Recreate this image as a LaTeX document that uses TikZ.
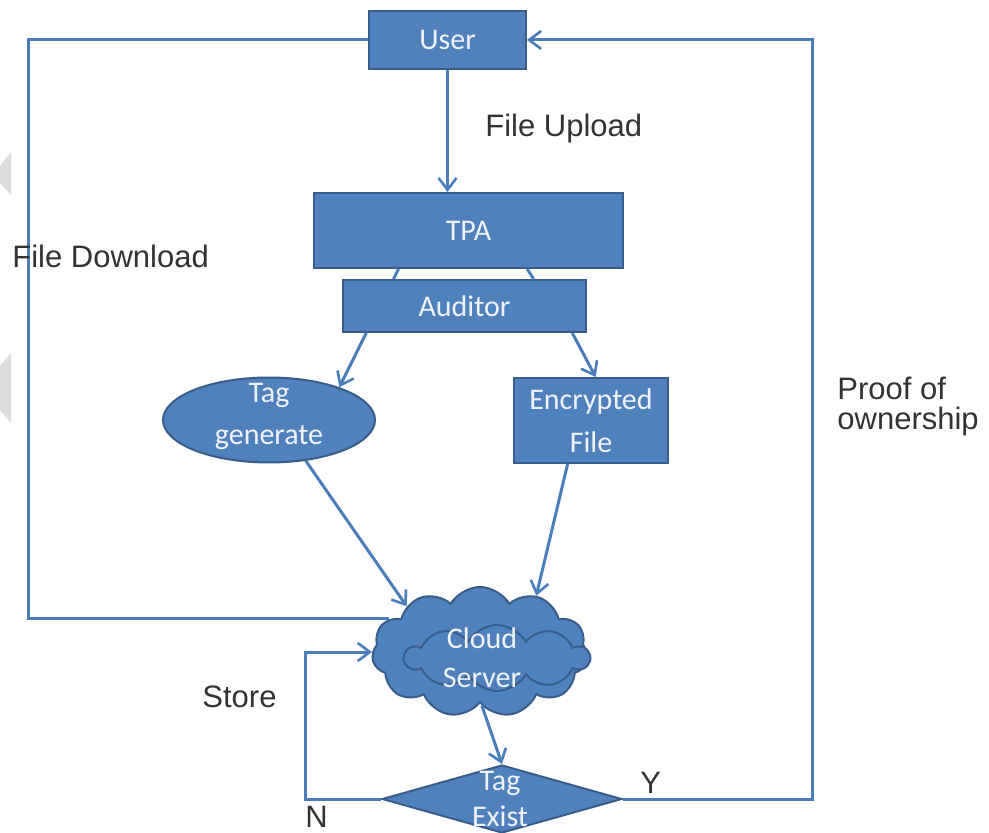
\documentclass[tikz,border=0pt]{standalone}
\usepackage{fontspec}
\setmainfont{Carlito}
\newfontfamily\labelfont{Liberation Sans}
\usetikzlibrary{shapes.geometric,shapes.symbols,arrows.meta,calc,backgrounds}
\definecolor{boxfill}{HTML}{4F81BD}
\definecolor{boxedge}{HTML}{385D8A}
\definecolor{wire}{HTML}{4A7EBB}
\definecolor{boxtext}{HTML}{EEF3FA}
\definecolor{labeltext}{HTML}{333333}
\definecolor{markgrey}{HTML}{DDDDDD}

\tikzset{
  block/.style={draw=boxedge, line width=1pt, fill=boxfill, inner sep=0pt},
  blocktext/.style={text=boxtext, font=\fontsize{15}{18}\selectfont, align=center, inner sep=0pt},
  wireline/.style={draw=wire, line width=1.5pt},
  arr/.style={wireline, -{Straight Barb[length=6pt,width=9pt,line width=1.3pt]}},
  lbl/.style={text=labeltext, font=\labelfont\fontsize{15.5}{18}\selectfont, inner sep=0pt, anchor=base west},
}

\begin{document}
\begin{tikzpicture}[x=0.5pt,y=-0.5pt]
\useasboundingbox (0,0) rectangle (989,833);

% faint grey marks on the left edge
\fill[markgrey] (11,152) -- (11,195) -- (0,183) -- (0,166) -- cycle;
\fill[markgrey] (11,353) -- (11,423) -- (0,410) -- (0,366) -- cycle;

% blocks
\node[block, blocktext, minimum width=78.5pt, minimum height=29pt] (user) at (447.5,40) {User};
\node[block, blocktext, minimum width=154.5pt, minimum height=37.5pt] (tpa) at (468.5,230.5) {TPA};
\node[block, blocktext, minimum width=121.5pt, minimum height=26pt] (aud) at (464.5,306) {Auditor};
\node[block, ellipse, minimum width=106pt, minimum height=42.5pt] (tg) at (269,420) {};
\node[blocktext, font=\fontsize{15}{21}\selectfont] (tgtext) at (269,416) {Tag\\generate};
\node[block, blocktext, font=\fontsize{15}{21.5}\selectfont, minimum width=77pt, minimum height=42.5pt] (enc) at (591,420.5) {Encrypted\\File};

% cloud server
\node[block, cloud, cloud puffs=11, cloud puff arc=120, aspect=1.65, minimum width=108pt, minimum height=65pt] (cloud) at (480,652) {};
\node[block, cloud, cloud puffs=10, cloud puff arc=120, aspect=2.8, minimum width=92pt, minimum height=33pt] (cloudin) at (497,658) {};
\node[blocktext, font=\fontsize{15}{19.5}\selectfont] (cloudtext) at (482,658) {Cloud\\Server};

% decision
\node[block, diamond, minimum width=120pt, minimum height=34pt] (dia) at (502,799) {};
\node[blocktext, font=\fontsize{15}{18}\selectfont] (diatext) at (500,799) {Tag\\Exist};

% corner points of the loops
\coordinate (fdcorner) at (28,40);
\coordinate (pocorner) at (812,40);
\coordinate (stcorner) at (305,799);

% connectors
\begin{scope}[on background layer]
  \fill[white] (0,0) rectangle (989,833);
  \draw[wireline] (cloud.160) -| (fdcorner) -- (user.west);
\end{scope}
\draw[arr] (dia.east) -| (pocorner) -- (user.east);
\draw[arr] (dia.west) -| (stcorner) |- (cloud.west);
\draw[arr] (user.south) -- (user.south |- tpa.north);
\draw[wireline] ($(tpa.south west)!0.275!(tpa.south east)$) -- ($(aud.north west)!0.21!(aud.north east)$);
\draw[wireline] ($(tpa.south west)!0.689!(tpa.south east)$) -- ($(aud.north west)!0.782!(aud.north east)$);
\draw[arr] ($(aud.south west)!0.099!(aud.south east)$) -- (tg.25);
\draw[arr] ($(aud.south west)!0.94!(aud.south east)$) -- ($(enc.north west)!0.53!(enc.north east)$);
\draw[arr] (tg.-48) -- (cloud.148);
\draw[arr] ($(enc.south west)!0.35!(enc.south east)$) -- (cloud.45);
\draw[arr] (cloud.-88) -- (dia.north);

% labels
\node[lbl] (fu) at (485,137) {File Upload};
\node[lbl] (fd) at (12,268) {File Download};
\node[lbl] (st) at (202,707) {Store};
\node[lbl, text depth=0pt] (nlab) at (305,827) {N};
\node[lbl] (ylab) at (640,793) {Y};
\node[lbl, align=left, anchor=north west, font=\labelfont\fontsize{15.5}{15}\selectfont] (pow) at (837,377) {Proof of\\ownership};
\end{tikzpicture}
\end{document}
